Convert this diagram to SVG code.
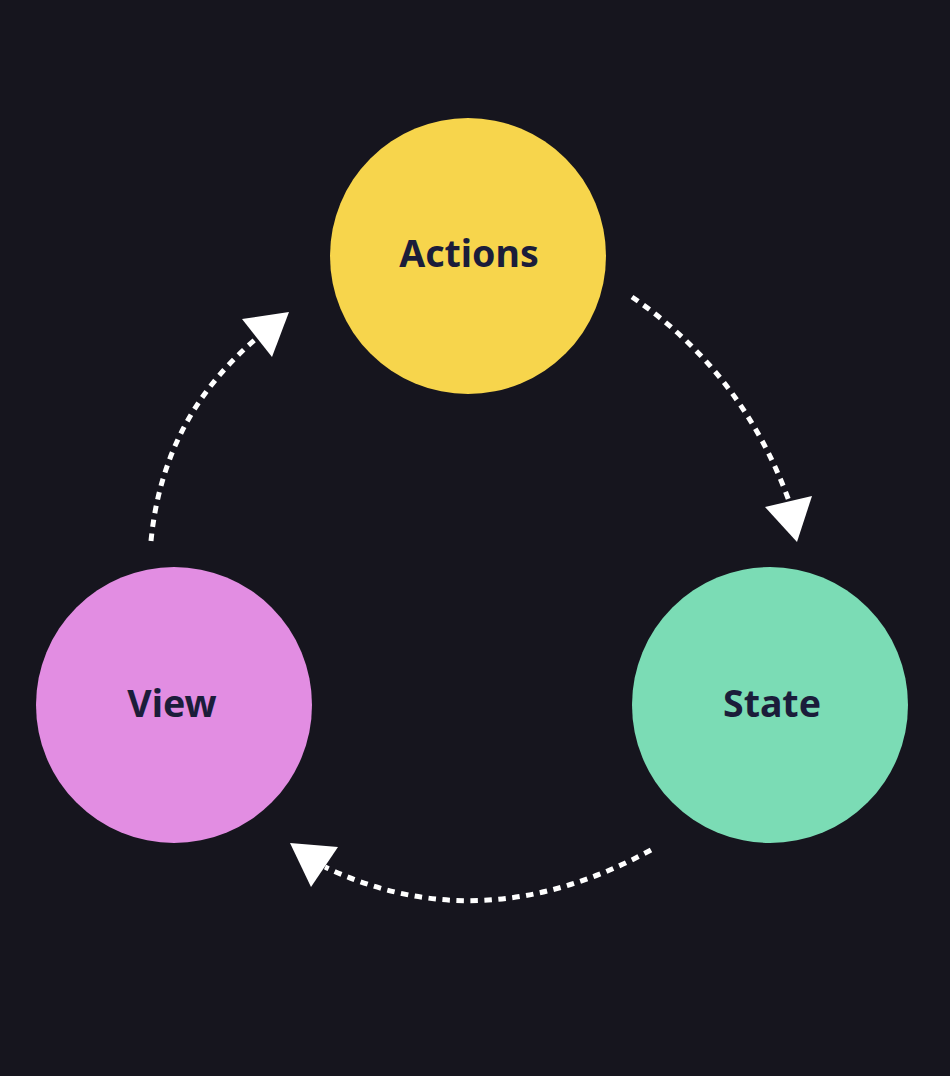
<svg xmlns="http://www.w3.org/2000/svg" width="950" height="1076" viewBox="0 0 950 1076">
<style>
.lbl{font-family:"Noto Sans","Open Sans","DejaVu Sans",sans-serif;font-weight:700;font-size:37.5px;fill:#1b1d3a;text-anchor:middle}
.dash{fill:none;stroke:#ffffff;stroke-width:5;stroke-dasharray:7.5 6.5}
.head{fill:#ffffff}
</style>
<rect width="950" height="1076" fill="#16151e"/>
<g id="connectors">
<path class="dash" d="M632,297 Q742,372 789,501"/>
<polygon class="head" points="797,542 765,507 812,496"/>
<path class="dash" d="M651,850 Q482,942 325,867"/>
<polygon class="head" points="290,843 338,847 311,887"/>
<path class="dash" d="M151,541 Q163,417 257,338"/>
<polygon class="head" points="289,312 242,319 272,357"/>
</g>
<g id="actions">
<circle cx="468" cy="256" r="138" fill="#f7d54c"/>
<text class="lbl" x="469" y="267">Actions</text>
</g>
<g id="state">
<circle cx="770" cy="705" r="138" fill="#7bdcb5"/>
<text class="lbl" x="772" y="717">State</text>
</g>
<g id="view">
<circle cx="174" cy="705" r="138" fill="#e28de2"/>
<text class="lbl" x="172" y="717">View</text>
</g>
</svg>
